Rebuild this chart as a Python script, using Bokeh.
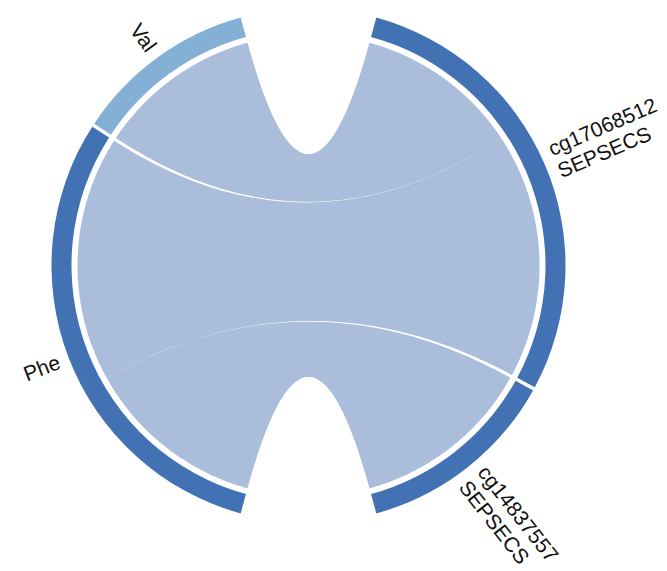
import numpy as np
from bokeh.plotting import figure
from bokeh.models import Range1d, ColumnDataSource
from bokeh.core.properties import value
from bokeh.embed import file_html
from bokeh.resources import INLINE

# Sectors in clockwise order, starting just right of the top gap
sectors = ["cg17068512\nSEPSECS", "cg14837557\nSEPSECS", "Phe", "Val"]
sector_colors = ["#4272B4", "#4272B4", "#4272B4", "#84B0D5"]

# Links between metabolites and CpG sites
link_from = ["Val", "Phe", "Phe"]
link_to = ["cg17068512\nSEPSECS", "cg17068512\nSEPSECS", "cg14837557\nSEPSECS"]
link_value = [0.28, 0.42, 0.31]

W, H = 667, 571
CX, CY = 308, 306
R_OUT, R_IN, R_LINK, R_LABEL = 257, 237, 231, 267
BIG_GAP, SMALL_GAP = 30.6, 0.8
gaps_after = [SMALL_GAP, BIG_GAP, SMALL_GAP, BIG_GAP]
LINK_COLOR = "#AABDDA"
FONT_SIZE = "21px"
LINE_H = 24

# sector totals and angular scale
totals = {s: 0.0 for s in sectors}
for a, b, v in zip(link_from, link_to, link_value):
    totals[a] += v
    totals[b] += v
deg_per_unit = (360 - sum(gaps_after)) / sum(totals.values())

spans = {}
cur = 90 - BIG_GAP / 2
for s, g in zip(sectors, gaps_after):
    end = cur - totals[s] * deg_per_unit
    spans[s] = (cur, end)
    cur = end - g

# allocate each link's footprint inside its two sectors
idx = {s: i for i, s in enumerate(sectors)}
ends = {}
for s in sectors:
    links = [(k, b if a == s else a) for k, (a, b) in enumerate(zip(link_from, link_to)) if s in (a, b)]
    links.sort(key=lambda t: -idx[t[1]])
    pos = spans[s][0]
    for k, other in links:
        nxt = pos - link_value[k] * deg_per_unit
        ends[(k, s)] = (pos, nxt)
        pos = nxt


def arc(a0, a1, r, n=80):
    t = np.radians(np.linspace(a0, a1, n))
    return CX + r * np.cos(t), CY + r * np.sin(t)


def bezier(a0, a1, r, n=80):
    p0 = np.array([CX + r * np.cos(np.radians(a0)), CY + r * np.sin(np.radians(a0))])
    p2 = np.array([CX + r * np.cos(np.radians(a1)), CY + r * np.sin(np.radians(a1))])
    c = np.array([CX, CY])
    t = np.linspace(0, 1, n)[:, None]
    pts = (1 - t) ** 2 * p0 + 2 * (1 - t) * t * c + t ** 2 * p2
    return pts[:, 0], pts[:, 1]


xs, ys = [], []
for k, (a, b) in enumerate(zip(link_from, link_to)):
    a0, a1 = ends[(k, a)]
    b0, b1 = ends[(k, b)]
    parts = [arc(a0, a1, R_LINK), bezier(a1, b0, R_LINK), arc(b0, b1, R_LINK), bezier(b1, a0, R_LINK)]
    xs.append(np.concatenate([p[0] for p in parts]).tolist())
    ys.append(np.concatenate([p[1] for p in parts]).tolist())

p = figure(width=W, height=H, x_range=Range1d(0, W), y_range=Range1d(0, H),
           output_backend="svg", toolbar_location=None, min_border=0,
           x_axis_location=None, y_axis_location=None)
p.grid.visible = False
p.outline_line_color = None

p.patches(xs, ys, fill_color=LINK_COLOR, line_alpha=0)

# outer sector bands
band = ColumnDataSource(dict(
    x=[CX] * len(sectors), y=[CY] * len(sectors),
    start=[np.radians(spans[s][1]) for s in sectors],
    end=[np.radians(spans[s][0]) for s in sectors],
    color=sector_colors,
))
p.annular_wedge(x="x", y="y", inner_radius=R_IN, outer_radius=R_OUT,
                start_angle="start", end_angle="end", direction="anticlock",
                fill_color="color", line_alpha=0, source=band)

# radial labels
lx, ly, lt, la, lal = [], [], [], [], []
for s in sectors:
    mid = (spans[s][0] + spans[s][1]) / 2
    m = np.radians(mid)
    if np.cos(m) >= 0:
        ang, align = mid, "left"
    else:
        ang, align = mid + 180, "right"
    bx, by = CX + R_LABEL * np.cos(m), CY + R_LABEL * np.sin(m)
    lines = s.split("\n")
    n = len(lines)
    perp = np.radians(ang + 90)
    for j, line in enumerate(lines):
        off = ((n - 1) / 2 - j) * LINE_H
        lx.append(bx + off * np.cos(perp))
        ly.append(by + off * np.sin(perp))
        lt.append(line)
        la.append(np.radians(ang))
        lal.append(align)

labels = ColumnDataSource(dict(x=lx, y=ly, text=lt, angle=la, align=lal))
p.text(x="x", y="y", text="text", angle="angle", text_align="align",
       text_baseline="middle", text_font=value("Liberation Sans"),
       text_font_size=FONT_SIZE, text_color="#111111", source=labels)

open("out.html", "w").write(file_html(p, INLINE))
